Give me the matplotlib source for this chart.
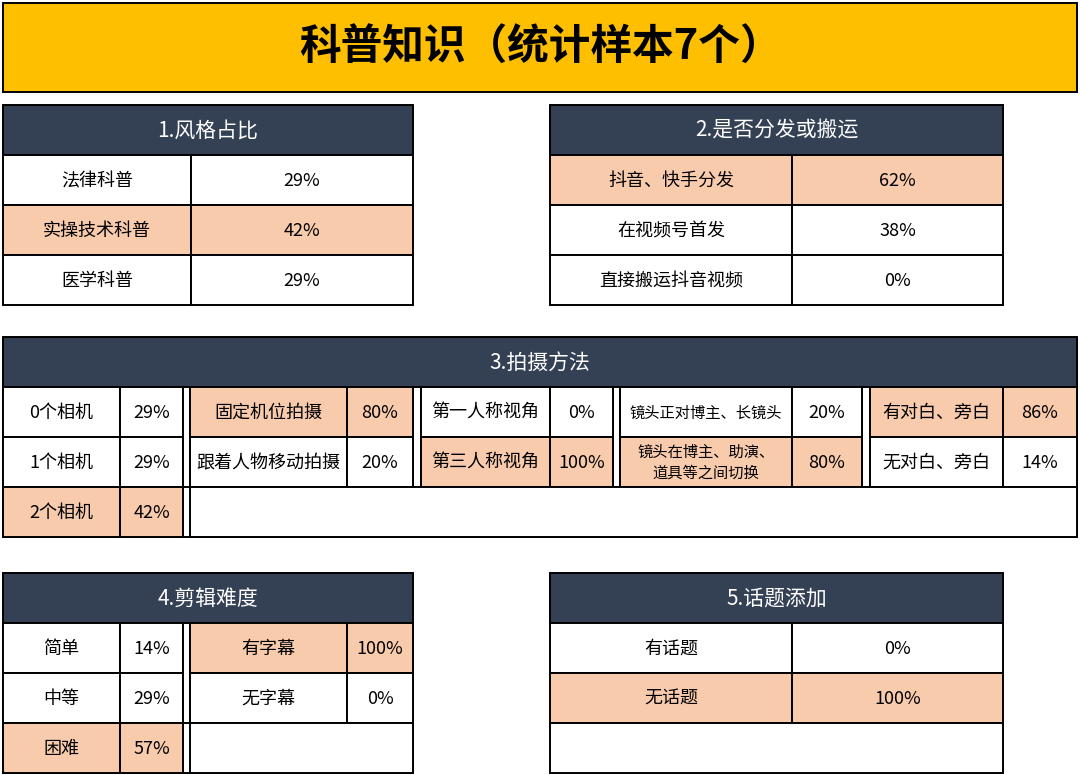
import matplotlib
matplotlib.use("Agg")
import matplotlib.pyplot as plt
from matplotlib.patches import Rectangle

plt.rcParams["font.family"] = "Noto Sans CJK SC"

# === DATA ===
title = "科普知识（统计样本7个）"

style_title = "1.风格占比"
style_labels = ["法律科普", "实操技术科普", "医学科普"]
style_values = [29, 42, 29]

dist_title = "2.是否分发或搬运"
dist_labels = ["抖音、快手分发", "在视频号首发", "直接搬运抖音视频"]
dist_values = [62, 38, 0]

shoot_title = "3.拍摄方法"
camera_labels = ["0个相机", "1个相机", "2个相机"]
camera_values = [29, 29, 42]
position_labels = ["固定机位拍摄", "跟着人物移动拍摄"]
position_values = [80, 20]
view_labels = ["第一人称视角", "第三人称视角"]
view_values = [0, 100]
lens_labels = ["镜头正对博主、长镜头", "镜头在博主、助演、\n道具等之间切换"]
lens_values = [20, 80]
voice_labels = ["有对白、旁白", "无对白、旁白"]
voice_values = [86, 14]

edit_title = "4.剪辑难度"
diff_labels = ["简单", "中等", "困难"]
diff_values = [14, 29, 57]
sub_labels = ["有字幕", "无字幕"]
sub_values = [100, 0]

topic_title = "5.话题添加"
topic_labels = ["有话题", "无话题"]
topic_values = [0, 100]

# === STYLE ===
YELLOW = "#FDBF00"
DARK = "#344154"
HL = "#F8CBAD"
LW = 1.4

fig = plt.figure(figsize=(10.8, 7.75), dpi=100)
ax = fig.add_axes([0, 0, 1, 1])
ax.set_xlim(0, 1080)
ax.set_ylim(775, 0)
ax.axis("off")


def box(x0, y0, x1, y1, fc="white"):
    ax.add_patch(Rectangle((x0, y0), x1 - x0, y1 - y0, facecolor=fc,
                           edgecolor="black", linewidth=LW))


def header(x0, x1, y0, text):
    box(x0, y0, x1, y0 + 50, DARK)
    ax.text((x0 + x1) / 2, y0 + 26, text, color="white", fontsize=15,
            ha="center", va="center")


def table(x0, xs, x1, y0, labels, values, fs=13, blank_to=None):
    top = max(values)
    for i, (lab, v) in enumerate(zip(labels, values)):
        fc = HL if v == top else "white"
        ya = y0 + i * 50
        box(x0, ya, xs, ya + 50, fc)
        box(xs, ya, x1, ya + 50, fc)
        lfs = 11 if "\n" in lab else fs
        if len(lab) >= 9 and "\n" not in lab:
            lfs = 11
        ax.text((x0 + xs) / 2, ya + 26, lab, fontsize=lfs, ha="center",
                va="center", linespacing=1.3)
        ax.text((xs + x1) / 2, ya + 26, f"{v}%", fontsize=fs,
                ha="center", va="center")


# title bar
box(3, 3, 1077, 92, YELLOW)
ax.text(540, 48, title, fontsize=30, fontweight="bold", ha="center", va="center")

# section 1 & 2
header(3, 413, 105, style_title)
table(3, 191, 413, 155, style_labels, style_values)
header(550, 1003, 105, dist_title)
table(550, 792, 1003, 155, dist_labels, dist_values)

# section 3
header(3, 1077, 337, shoot_title)
box(3, 387, 1077, 537)
table(3, 120, 183, 387, camera_labels, camera_values)
for gx0, gx1 in [(183, 190), (413, 421), (613, 620), (862, 870)]:
    box(gx0, 387, gx1, 487)
table(190, 347, 413, 387, position_labels, position_values)
table(421, 550, 613, 387, view_labels, view_values)
table(620, 792, 862, 387, lens_labels, lens_values)
table(870, 1003, 1077, 387, voice_labels, voice_values)
box(190, 487, 1077, 537)

# section 4
header(3, 413, 573, edit_title)
box(3, 623, 413, 773)
table(3, 120, 183, 623, diff_labels, diff_values)
box(183, 623, 190, 723)
table(190, 347, 413, 623, sub_labels, sub_values)
box(190, 723, 413, 773)

# section 5
header(550, 1003, 573, topic_title)
table(550, 792, 1003, 623, topic_labels, topic_values)
box(550, 723, 1003, 773)

fig.savefig("out.png", dpi=100)
